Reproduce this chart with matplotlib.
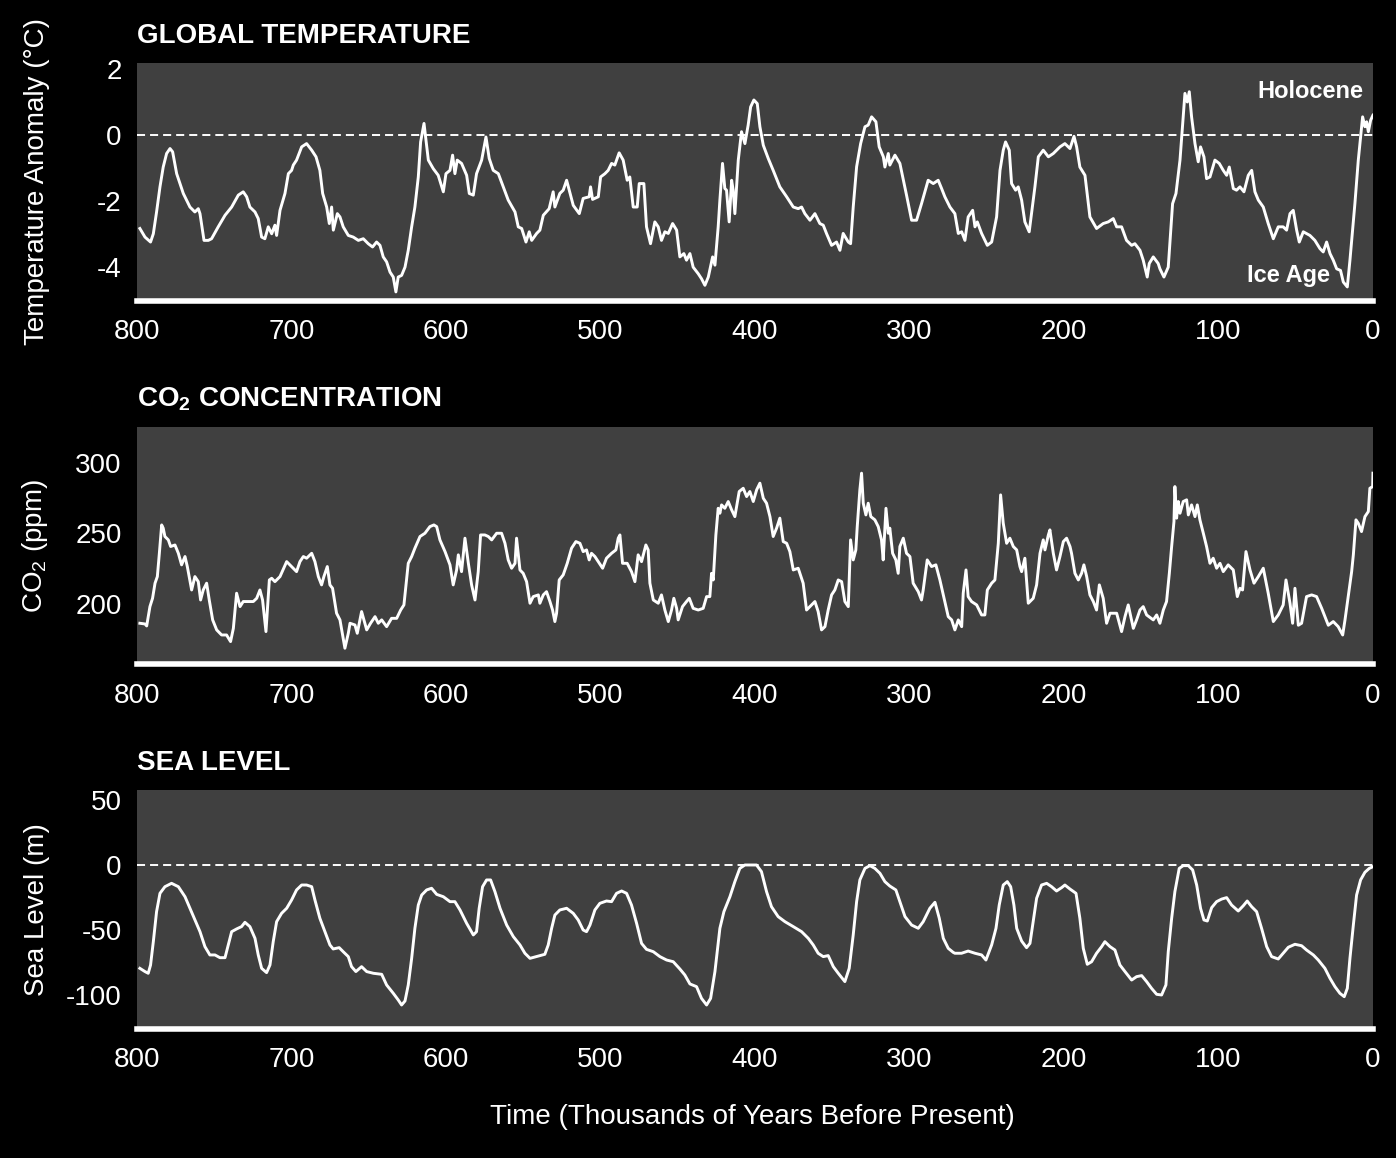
import matplotlib
matplotlib.use("Agg")
import matplotlib.pyplot as plt

# ages in thousands of years before present
temp_age = [798.1, 794.8, 791.2, 789.4, 787.3, 785.1, 783.0, 780.8, 778.6, 776.9,
            774.3, 770.0, 765.7, 762.5, 760.3, 759.2, 756.6, 753.8, 751.7, 747.4,
            743.0, 738.7, 734.4, 731.2, 729.0, 726.9, 723.6, 721.5, 719.3, 717.2,
            715.0, 712.8, 710.7, 709.6, 707.4, 704.2, 702.0, 699.9, 698.8, 696.7,
            693.4, 690.2, 686.9, 684.1, 681.6, 679.8, 677.2, 675.5, 674.0, 672.9,
            670.3, 668.6, 666.5, 663.2, 660.0, 656.7, 653.5, 650.3, 647.5, 644.9,
            642.7, 640.6, 638.4, 636.2, 634.1, 632.4, 630.9, 628.7, 626.5, 624.4,
            622.2, 620.1, 617.9, 616.4, 614.2, 612.9, 611.4, 608.2, 605.0, 601.7,
            600.0, 597.4, 595.7, 594.2, 592.7, 589.9, 586.6, 584.9, 582.3, 580.2,
            576.9, 574.1, 572.0, 569.4, 566.1, 562.9, 559.7, 555.3, 553.2, 551.0,
            548.2, 546.1, 544.5, 541.3, 539.2, 537.0, 533.2, 530.6, 529.5, 526.3,
            524.1, 521.9, 517.6, 513.7, 511.2, 507.3, 506.4, 505.1, 501.4, 499.9,
            497.1, 495.0, 492.8, 490.7, 487.9, 485.3, 482.7, 481.0, 478.8, 476.2,
            474.9, 471.9, 470.2, 467.6, 464.8, 462.6, 460.5, 458.3, 456.1, 453.3,
            450.7, 448.6, 446.0, 444.3, 442.1, 440.0, 436.7, 434.6, 432.4, 430.2,
            427.4, 425.9, 423.8, 422.7, 421.0, 419.5, 418.4, 416.7, 415.1, 414.1,
            413.0, 410.8, 408.7, 406.5, 404.4, 402.8, 400.7, 398.5, 396.8, 394.6,
            391.4, 388.2, 383.9, 379.5, 375.2, 372.0, 369.8, 367.7, 364.4, 361.2,
            358.0, 355.8, 353.7, 350.4, 347.2, 345.0, 342.9, 339.6, 338.1, 336.4,
            334.2, 331.6, 328.8, 326.7, 324.5, 321.7, 319.6, 316.9, 315.9, 313.7,
            312.7, 309.4, 306.2, 301.9, 298.6, 295.4, 292.2, 287.9, 284.6, 281.4,
            279.2, 277.1, 273.8, 270.6, 268.4, 266.2, 264.1, 262.0, 259.1, 257.6,
            256.1, 253.3, 249.6, 246.8, 243.6, 241.4, 239.3, 237.8, 235.4, 233.9,
            231.3, 229.6, 227.4, 225.3, 222.5, 221.0, 218.8, 216.6, 213.4, 210.1,
            206.9, 202.6, 199.4, 196.1, 193.5, 191.8, 189.7, 186.4, 183.2, 178.9,
            174.6, 171.3, 168.1, 165.9, 162.7, 159.5, 156.2, 154.1, 150.8, 148.7,
            146.1, 144.8, 142.2, 139.0, 137.9, 135.3, 132.5, 129.7, 127.5, 124.9,
            122.8, 121.7, 120.2, 118.9, 117.4, 115.2, 113.1, 111.6, 109.4, 107.7,
            105.5, 102.3, 99.5, 96.9, 94.7, 93.0, 90.4, 88.3, 86.1, 83.5,
            80.7, 78.5, 76.4, 74.2, 71.0, 67.8, 64.5, 61.3, 58.1, 55.9,
            53.7, 51.6, 49.4, 47.7, 45.1, 40.8, 37.6, 34.3, 32.2, 30.0,
            27.8, 25.7, 23.5, 21.0, 19.2, 16.6, 14.9, 11.7, 9.5, 6.7,
            5.2, 4.1, 3.0, 1.5, 0.0]
temp_anom = [-2.84, -3.10, -3.25, -3.00, -2.34, -1.58, -0.98, -0.57, -0.42, -0.52,
             -1.18, -1.78, -2.19, -2.34, -2.24, -2.39, -3.20, -3.20, -3.15, -2.79,
             -2.44, -2.19, -1.83, -1.73, -1.88, -2.19, -2.34, -2.54, -3.10, -3.15,
             -2.79, -3.00, -2.74, -3.05, -2.29, -1.78, -1.18, -1.08, -0.92, -0.77,
             -0.37, -0.27, -0.47, -0.67, -1.08, -1.78, -2.19, -2.69, -2.19, -2.89,
             -2.39, -2.49, -2.79, -3.05, -3.10, -3.20, -3.15, -3.30, -3.40, -3.25,
             -3.35, -3.70, -3.85, -4.16, -4.31, -4.76, -4.31, -4.26, -4.01, -3.50,
             -2.79, -2.19, -1.28, -0.22, 0.34, -0.17, -0.77, -1.03, -1.23, -1.73,
             -1.18, -1.08, -0.62, -1.18, -0.77, -0.87, -1.23, -1.78, -1.83, -1.18,
             -0.77, -0.07, -0.72, -1.08, -1.18, -1.58, -1.98, -2.34, -2.79, -2.84,
             -3.25, -2.94, -3.20, -2.99, -2.89, -2.44, -2.24, -1.73, -2.19, -1.78,
             -1.68, -1.38, -2.14, -2.39, -1.93, -1.88, -1.58, -1.96, -1.88, -1.28,
             -1.18, -1.08, -0.87, -0.92, -0.55, -0.77, -1.38, -1.28, -2.19, -2.19,
             -1.48, -1.48, -2.79, -3.30, -2.64, -2.79, -3.20, -2.94, -2.99, -2.69,
             -2.89, -3.70, -3.60, -3.80, -3.60, -4.01, -4.21, -4.36, -4.56, -4.31,
             -3.70, -3.95, -2.79, -1.98, -0.87, -1.63, -1.68, -2.64, -1.38, -1.68,
             -2.39, -0.77, 0.09, -0.27, 0.29, 0.84, 1.05, 0.94, 0.24, -0.32,
             -0.72, -1.08, -1.58, -1.88, -2.19, -2.24, -2.19, -2.39, -2.59, -2.39,
             -2.69, -2.74, -2.99, -3.35, -3.25, -3.50, -2.99, -3.25, -3.30, -2.19,
             -0.97, -0.27, 0.24, 0.29, 0.54, 0.39, -0.37, -0.67, -0.98, -0.57,
             -0.92, -0.62, -0.87, -1.83, -2.59, -2.59, -2.09, -1.38, -1.48, -1.38,
             -1.63, -1.88, -2.19, -2.39, -2.99, -2.94, -3.20, -2.49, -2.29, -2.79,
             -2.64, -2.99, -3.35, -3.25, -2.49, -1.08, -0.47, -0.22, -0.47, -1.48,
             -1.68, -1.58, -1.98, -2.64, -2.94, -2.39, -1.58, -0.67, -0.47, -0.67,
             -0.57, -0.37, -0.27, -0.42, -0.05, -0.37, -0.98, -1.23, -2.49, -2.84,
             -2.69, -2.64, -2.54, -2.79, -2.79, -3.20, -3.35, -3.30, -3.50, -3.80,
             -4.31, -3.90, -3.70, -3.90, -4.06, -4.31, -4.01, -2.09, -1.78, -0.77,
             0.54, 1.25, 0.99, 1.30, 0.54, -0.27, -0.82, -0.37, -0.67, -1.33,
             -1.28, -0.77, -0.87, -1.08, -1.23, -0.98, -1.63, -1.68, -1.58, -1.73,
             -1.23, -1.08, -1.73, -1.98, -2.19, -2.69, -3.15, -2.79, -2.79, -2.89,
             -2.39, -2.29, -2.89, -3.25, -2.94, -3.05, -3.20, -3.45, -3.55, -3.25,
             -3.60, -3.80, -4.06, -4.11, -4.46, -4.61, -3.80, -2.09, -0.77, 0.54,
             0.24, 0.39, 0.09, 0.44, 0.59]

co2_age = [798.1, 794.8, 793.7, 791.6, 789.9, 788.3, 786.8, 785.5, 784.0, 783.0,
           781.9, 779.7, 778.2, 775.4, 773.2, 771.1, 768.9, 767.4, 764.6, 762.5,
           760.3, 758.8, 757.1, 754.9, 753.2, 751.0, 748.4, 745.2, 742.0, 739.4,
           737.6, 735.5, 733.3, 731.2, 727.9, 724.7, 722.5, 720.4, 718.7, 716.5,
           714.3, 712.8, 710.7, 707.4, 703.1, 699.9, 696.7, 694.5, 692.3, 690.2,
           686.9, 684.8, 682.6, 680.5, 679.0, 676.8, 675.1, 673.4, 670.8, 668.6,
           665.4, 663.2, 662.1, 658.9, 657.4, 654.6, 651.3, 648.8, 645.9, 643.8,
           641.6, 638.4, 635.2, 631.9, 629.3, 627.2, 624.4, 622.2, 620.1, 616.8,
           613.6, 610.4, 607.8, 606.0, 603.9, 600.6, 597.4, 595.3, 593.1, 592.0,
           589.9, 587.7, 585.5, 583.4, 581.2, 579.1, 577.6, 574.8, 572.6, 570.4,
           567.2, 564.0, 561.8, 559.7, 557.5, 555.3, 554.3, 552.1, 550.0, 547.8,
           545.6, 543.5, 540.2, 539.2, 537.0, 534.9, 532.7, 531.0, 529.5, 528.4,
           526.7, 524.1, 521.5, 518.7, 515.9, 513.3, 511.2, 509.0, 507.3, 505.8,
           503.6, 498.6, 496.1, 492.8, 490.0, 488.5, 487.4, 485.7, 482.7, 479.9,
           477.7, 475.6, 473.4, 470.6, 469.1, 468.0, 465.8, 462.6, 460.5, 458.3,
           456.1, 454.0, 452.5, 450.7, 449.7, 446.9, 444.3, 442.5, 440.0, 436.7,
           433.5, 431.3, 429.2, 428.1, 427.0, 425.3, 423.8, 422.7, 421.6, 419.5,
           417.3, 415.1, 413.0, 410.2, 407.6, 405.4, 403.3, 401.1, 398.9, 396.8,
           394.6, 392.5, 390.3, 388.2, 386.0, 383.9, 381.7, 379.5, 377.4, 375.2,
           372.0, 368.8, 366.6, 363.4, 361.2, 359.1, 356.9, 354.7, 352.6, 350.4,
           348.3, 346.1, 343.9, 341.8, 339.6, 338.1, 336.4, 334.7, 333.8, 332.1,
           331.0, 329.9, 328.2, 326.7, 325.0, 322.4, 320.2, 318.1, 317.0, 315.2,
           313.7, 312.7, 310.9, 308.8, 307.3, 306.2, 304.0, 301.9, 299.7, 297.6,
           294.3, 292.2, 291.1, 288.5, 285.7, 282.9, 280.3, 277.1, 274.9, 272.7,
           270.6, 268.4, 266.2, 265.2, 263.4, 262.0, 259.8, 256.5, 253.3, 251.2,
           249.6, 246.8, 244.7, 242.5, 241.0, 239.3, 237.1, 235.0, 232.8, 230.6,
           228.5, 227.4, 225.3, 223.1, 219.9, 217.7, 215.5, 213.4, 212.3, 210.1,
           209.1, 206.9, 204.8, 202.6, 200.4, 198.3, 196.1, 195.1, 192.9, 190.7,
           188.6, 187.1, 185.3, 183.2, 181.0, 178.9, 177.1, 174.6, 172.4, 170.2,
           165.9, 162.7, 160.5, 158.4, 155.1, 153.0, 150.8, 148.7, 146.5, 142.2,
           140.0, 137.9, 135.7, 133.6, 131.8, 130.3, 128.8, 128.2, 127.1, 126.0,
           124.9, 122.8, 120.6, 119.5, 117.4, 115.2, 113.7, 112.0, 109.8, 107.7,
           105.5, 103.4, 101.2, 99.0, 96.9, 93.7, 90.4, 87.8, 86.1, 84.4,
           82.2, 79.6, 77.0, 74.2, 71.0, 67.8, 64.5, 61.3, 58.1, 56.3,
           53.7, 52.0, 50.5, 48.3, 46.2, 43.0, 39.7, 36.5, 33.2, 28.9,
           25.7, 22.5, 19.6, 18.1, 16.0, 13.8, 12.7, 11.0, 9.5, 7.4,
           5.2, 3.0, 2.0, 0.2, 0.0]
co2_ppm = [186.3, 185.8, 184.4, 198.1, 204.0, 214.7, 219.4, 235.9, 256.0, 253.7,
           247.8, 245.4, 240.7, 241.8, 235.9, 227.7, 233.6, 226.5, 209.9, 219.4,
           215.8, 202.8, 209.9, 214.7, 202.8, 188.7, 181.6, 178.0, 178.0, 173.3,
           182.7, 207.6, 198.1, 201.7, 201.7, 201.7, 204.0, 209.9, 202.8, 180.4,
           217.0, 218.2, 215.8, 219.4, 230.0, 226.5, 222.9, 230.0, 233.6, 232.4,
           235.9, 230.0, 219.4, 213.5, 219.4, 226.5, 213.5, 211.1, 193.4, 188.7,
           168.6, 179.2, 186.3, 185.1, 179.2, 194.6, 181.6, 186.3, 191.0, 186.3,
           188.7, 183.9, 189.8, 189.8, 195.7, 199.3, 228.8, 233.6, 239.5, 247.8,
           250.1, 254.8, 256.0, 254.8, 245.4, 237.1, 227.7, 213.5, 224.1, 234.8,
           222.9, 246.6, 228.8, 213.5, 202.8, 222.9, 248.9, 248.9, 247.8, 245.4,
           250.1, 250.1, 243.0, 231.2, 225.3, 228.8, 246.6, 224.1, 221.7, 215.8,
           200.5, 205.2, 206.4, 200.5, 206.4, 208.7, 201.7, 195.7, 187.5, 193.4,
           217.0, 220.6, 228.8, 239.5, 244.2, 243.0, 237.1, 238.3, 231.2, 235.9,
           233.6, 225.3, 232.4, 235.9, 238.3, 246.6, 248.9, 228.8, 228.8, 222.9,
           215.8, 234.8, 230.0, 241.8, 238.3, 214.7, 202.8, 200.5, 206.4, 195.7,
           187.5, 195.7, 204.0, 196.9, 188.7, 198.1, 201.7, 204.0, 196.9, 195.7,
           196.9, 205.2, 205.2, 221.7, 217.0, 248.9, 267.8, 264.3, 270.2, 267.8,
           272.6, 266.7, 261.9, 279.7, 282.0, 276.1, 279.7, 272.6, 280.9, 285.6,
           274.9, 271.4, 261.9, 247.8, 253.7, 260.8, 244.2, 243.0, 237.1, 224.1,
           225.3, 214.7, 195.7, 199.3, 201.7, 194.6, 181.6, 183.9, 195.7, 206.4,
           209.9, 217.0, 215.8, 201.7, 198.1, 245.4, 231.2, 238.3, 254.8, 280.9,
           292.7, 271.4, 263.1, 271.4, 261.9, 259.6, 254.8, 245.4, 231.2, 267.8,
           250.1, 253.7, 235.9, 231.2, 221.7, 240.7, 246.6, 235.9, 233.6, 214.7,
           208.7, 202.8, 209.9, 231.2, 226.5, 227.7, 217.0, 201.7, 191.0, 188.7,
           181.6, 188.7, 183.9, 207.6, 224.1, 205.2, 201.7, 199.3, 192.2, 192.2,
           209.9, 214.7, 217.0, 243.0, 277.3, 257.2, 243.0, 246.6, 240.7, 238.3,
           226.5, 222.9, 232.4, 200.5, 204.0, 213.5, 235.9, 245.4, 238.3, 248.9,
           252.5, 235.9, 224.1, 233.6, 244.2, 246.6, 240.7, 235.9, 221.7, 217.0,
           221.7, 227.7, 219.4, 206.4, 201.7, 195.7, 213.5, 204.0, 186.3, 193.4,
           193.4, 180.4, 191.0, 199.3, 182.7, 188.7, 195.7, 198.1, 192.2, 188.7,
           192.2, 186.3, 195.7, 201.7, 221.7, 240.7, 258.4, 283.2, 260.8, 272.6,
           264.3, 272.6, 273.8, 263.1, 270.2, 261.9, 270.2, 259.6, 250.1, 240.7,
           228.8, 232.4, 225.3, 228.8, 222.9, 227.7, 224.1, 205.2, 211.1, 209.9,
           237.1, 224.1, 214.7, 219.4, 225.3, 207.6, 187.5, 192.2, 199.3, 217.0,
           200.5, 186.3, 211.1, 184.9, 186.3, 205.2, 206.4, 205.2, 196.9, 184.9,
           187.5, 183.9, 178.0, 188.7, 205.2, 222.9, 234.8, 259.6, 257.2, 251.3,
           261.9, 265.5, 282.0, 283.2, 292.7]

sea_age = [798.1, 794.8, 792.7, 791.2, 789.4, 787.3, 785.1, 781.9, 777.6, 773.2,
           768.9, 765.7, 762.5, 759.2, 756.0, 752.8, 749.5, 746.3, 743.0, 740.9,
           738.7, 735.5, 732.3, 730.1, 726.9, 723.6, 721.5, 719.3, 716.1, 713.9,
           711.8, 709.6, 706.4, 703.1, 699.9, 696.7, 693.4, 690.2, 686.9, 684.8,
           681.6, 678.3, 675.1, 673.0, 669.1, 666.5, 663.2, 661.1, 658.3, 654.6,
           651.3, 647.0, 641.6, 638.4, 634.1, 630.9, 628.7, 626.5, 624.4, 622.2,
           620.1, 617.9, 615.7, 612.5, 609.3, 606.0, 601.7, 597.4, 594.2, 590.9,
           586.6, 582.3, 580.2, 578.5, 576.3, 573.7, 571.1, 568.3, 565.0, 560.7,
           556.4, 552.1, 548.9, 545.6, 539.2, 536.0, 533.8, 531.6, 529.5, 526.3,
           521.9, 517.6, 514.4, 511.2, 509.0, 506.8, 503.6, 500.4, 496.1, 492.8,
           489.6, 486.3, 483.1, 479.9, 476.6, 473.4, 470.2, 465.8, 461.5, 457.2,
           452.9, 448.6, 445.4, 442.1, 437.8, 434.6, 431.3, 428.7, 425.9, 422.7,
           420.1, 416.2, 413.0, 409.8, 406.5, 403.3, 399.0, 395.8, 392.5, 389.3,
           385.0, 380.6, 375.2, 369.8, 365.5, 362.3, 359.1, 355.8, 352.6, 349.3,
           346.1, 341.8, 339.0, 336.4, 334.2, 332.1, 328.8, 325.6, 322.4, 319.1,
           315.9, 312.7, 308.8, 306.2, 302.9, 298.6, 294.3, 291.1, 286.8, 283.5,
           280.7, 278.1, 274.9, 271.7, 270.6, 266.3, 262.0, 257.6, 253.3, 250.5,
           246.8, 244.0, 241.9, 239.3, 236.7, 234.5, 232.4, 230.6, 227.4, 224.2,
           222.0, 219.9, 217.7, 214.5, 211.2, 208.0, 204.8, 201.5, 199.4, 196.1,
           192.2, 189.7, 187.5, 184.9, 182.1, 178.9, 175.6, 173.5, 170.2, 167.0,
           163.8, 160.5, 156.2, 153.0, 149.7, 146.5, 143.3, 140.0, 136.8, 134.0,
           132.5, 130.3, 128.2, 125.4, 122.8, 119.5, 116.7, 114.1, 111.6, 109.4,
           107.2, 104.4, 101.2, 97.9, 94.7, 91.5, 87.2, 83.9, 81.4, 78.5,
           75.3, 72.1, 68.8, 65.6, 61.3, 58.1, 54.8, 50.5, 46.2, 43.0,
           38.6, 35.4, 31.1, 27.8, 24.6, 21.4, 18.6, 16.6, 14.9, 12.7,
           10.6, 8.0, 5.2, 2.4, 0.0]
sea_level = [-79.5, -82.0, -83.3, -77.0, -59.0, -35.9, -21.8, -16.7, -14.1, -16.7,
             -24.4, -33.3, -42.3, -51.3, -62.8, -69.2, -69.2, -71.3, -71.3, -61.5,
             -51.3, -49.2, -47.4, -44.1, -47.4, -56.4, -69.2, -79.5, -82.8, -76.9,
             -59.0, -43.6, -37.2, -33.3, -26.9, -19.2, -15.4, -15.4, -16.7, -26.9,
             -41.0, -51.3, -61.5, -64.6, -63.6, -66.7, -70.5, -78.2, -82.0, -78.2,
             -82.0, -83.3, -84.1, -92.3, -98.7, -103.8, -107.7, -104.6, -92.3, -71.8,
             -48.7, -30.8, -23.1, -19.2, -17.9, -22.6, -24.4, -28.2, -28.2, -34.6,
             -44.9, -53.8, -51.3, -33.3, -16.7, -11.5, -11.5, -20.5, -33.3, -46.2,
             -55.1, -61.5, -67.9, -71.8, -69.7, -68.7, -61.5, -48.7, -38.5, -34.6,
             -33.3, -37.2, -42.3, -50.0, -51.3, -46.2, -34.6, -29.5, -27.7, -28.2,
             -21.8, -20.0, -21.8, -30.8, -44.9, -60.3, -64.9, -66.7, -70.5, -73.1,
             -74.4, -80.0, -84.6, -91.5, -93.6, -102.6, -107.7, -102.6, -82.0, -48.7,
             -35.9, -24.4, -12.8, -2.6, 0.0, 0.0, 0.0, -5.1, -20.5, -32.1,
             -39.7, -43.6, -47.4, -51.3, -56.4, -61.5, -67.9, -70.5, -69.7, -78.2,
             -83.3, -89.7, -79.5, -53.8, -28.2, -11.5, -2.6, -0.5, -2.6, -6.4,
             -12.8, -16.2, -19.2, -28.2, -39.7, -46.2, -48.7, -43.6, -33.3, -28.7,
             -41.0, -56.4, -64.1, -67.2, -67.9, -67.9, -66.2, -67.9, -69.2, -73.1,
             -61.5, -48.7, -30.8, -15.4, -12.8, -16.7, -30.8, -48.7, -58.5, -63.6,
             -60.3, -43.6, -25.6, -15.4, -14.1, -16.7, -20.0, -17.4, -15.4, -18.5,
             -21.8, -41.0, -64.1, -76.4, -74.4, -67.9, -62.8, -59.0, -62.8, -65.4,
             -76.9, -82.0, -88.5, -85.9, -85.1, -89.7, -94.9, -99.5, -100.0, -92.3,
             -66.7, -41.0, -20.5, -2.6, -0.5, -0.5, -3.8, -15.4, -33.3, -42.3,
             -43.1, -32.8, -28.2, -26.2, -25.1, -30.8, -35.4, -31.3, -27.7, -32.1,
             -35.9, -48.7, -62.8, -70.5, -72.3, -67.9, -63.3, -61.0, -62.1, -65.4,
             -69.2, -73.1, -79.5, -87.2, -93.6, -98.7, -101.3, -94.9, -71.8, -46.2,
             -23.1, -11.5, -5.6, -2.6, -1.3]

x_ticks = [800, 700, 600, 500, 400, 300, 200, 100, 0]
temp_ticks = [2, 0, -2, -4]
co2_ticks = [300, 250, 200]
sea_ticks = [50, 0, -50, -100]

PANEL_BG = "#404040"


def style_panel(ax, yticks, ylim, title, ylabel):
    ax.set_facecolor(PANEL_BG)
    ax.set_xlim(800, 0)
    ax.set_ylim(*ylim)
    ax.set_xticks(x_ticks)
    ax.set_yticks(yticks)
    ax.tick_params(length=0, colors="white", labelsize=20)
    ax.tick_params(axis="x", pad=13)
    ax.tick_params(axis="y", pad=11)
    for side in ("top", "left", "right"):
        ax.spines[side].set_visible(False)
    ax.spines["bottom"].set_color("white")
    ax.spines["bottom"].set_linewidth(4.0)
    ax.set_ylabel(ylabel, color="white", fontsize=20)
    ax.yaxis.set_label_coords(-0.070, 0.5)
    ax.text(0, 1.085, title, transform=ax.transAxes, color="white",
            fontsize=20, fontweight="bold", ha="left", va="baseline")


def zero_line(ax):
    ax.axhline(0, color="white", lw=1.4, dashes=(5.8, 3.6), zorder=1)


def main():
    plt.rcParams["font.family"] = ["Liberation Sans", "DejaVu Sans"]
    plt.rcParams["mathtext.default"] = "regular"
    plt.rcParams["lines.scale_dashes"] = False
    plt.rcParams["axes.unicode_minus"] = False

    fig = plt.figure(figsize=(13.96, 11.58), dpi=100, facecolor="black")
    left, width = 0.0981, 0.8854
    ax1 = fig.add_axes([left, 0.7405, width, 0.2051])
    ax2 = fig.add_axes([left, 0.4262, width, 0.2054])
    ax3 = fig.add_axes([left, 0.1117, width, 0.2061])

    # temperature
    style_panel(ax1, temp_ticks, (-5.02, 2.17), "GLOBAL TEMPERATURE",
                "Temperature Anomaly (°C)")
    zero_line(ax1)
    ax1.plot(temp_age, temp_anom, color="white", lw=2.1, zorder=3)
    ax1.text(6, 1.3, "Holocene", color="white", fontsize=17,
             fontweight="bold", ha="right", va="center")
    ax1.text(28, -4.25, "Ice Age", color="white", fontsize=17,
             fontweight="bold", ha="right", va="center")

    # co2
    style_panel(ax2, co2_ticks, (157.1, 325.7), "CO$_2$ CONCENTRATION",
                "CO$_2$ (ppm)")
    ax2.plot(co2_age, co2_ppm, color="white", lw=2.1, zorder=3)

    # sea level
    style_panel(ax3, sea_ticks, (-125.9, 57.7), "SEA LEVEL", "Sea Level (m)")
    zero_line(ax3)
    ax3.plot(sea_age, sea_level, color="white", lw=2.1, zorder=3)

    fig.text(752 / 1396, 1 - 1117 / 1158,
             "Time (Thousands of Years Before Present)",
             color="white", fontsize=20, ha="center", va="center")

    fig.savefig("out.png", dpi=100, facecolor="black")


if __name__ == "__main__":
    main()
